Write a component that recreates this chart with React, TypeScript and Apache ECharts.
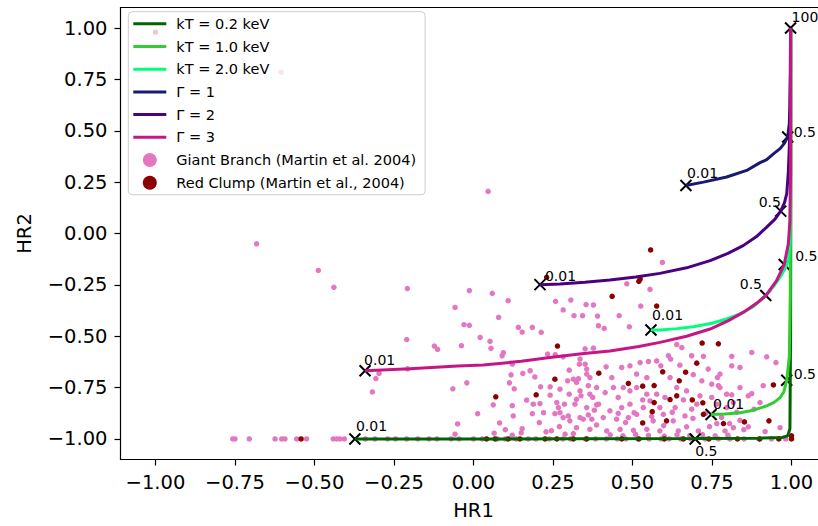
import React, { useEffect, useRef } from 'react';
import * as echarts from 'echarts';

const FONT = 'DejaVu Sans';

const xTicks = [-1, -0.75, -0.5, -0.25, 0, 0.25, 0.5, 0.75, 1];
const xTickLabels = ['−1.00', '−0.75', '−0.50', '−0.25', '0.00', '0.25', '0.50', '0.75', '1.00'];
const yTicks = [-1, -0.75, -0.5, -0.25, 0, 0.25, 0.5, 0.75, 1];
const yTickLabels = ['−1.00', '−0.75', '−0.50', '−0.25', '0.00', '0.25', '0.50', '0.75', '1.00'];

const seriesNames = ['kT = 0.2 keV', 'kT = 1.0 keV', 'kT = 2.0 keV', 'Γ = 1', 'Γ = 2', 'Γ = 3',
  'Giant Branch (Martin et al. 2004)', 'Red Clump (Martin et al., 2004)'];

// model tracks
const kT02X = [-0.373, -0.2, 0.0, 0.3, 0.697, 0.9, 0.97, 0.988, 0.995, 0.997, 0.998, 0.998];
const kT02Y = [-1.0, -1.0, -1.0, -0.999, -0.998, -0.996, -0.993, -0.985, -0.95, -0.5, 0.3, 1.0];
const kT10X = [0.747, 0.79, 0.838, 0.88, 0.922, 0.945, 0.964, 0.976, 0.985, 0.993, 0.996, 0.997, 0.997];
const kT10Y = [-0.881, -0.879, -0.872, -0.86, -0.839, -0.822, -0.799, -0.77, -0.714, -0.6, -0.3, 0.3, 1.0];
const kT20X = [0.558, 0.586, 0.64, 0.691, 0.75, 0.796, 0.84, 0.88, 0.919, 0.945, 0.964, 0.98, 0.99, 0.995, 0.997, 0.997];
const kT20Y = [-0.47, -0.47, -0.463, -0.454, -0.437, -0.416, -0.39, -0.356, -0.302, -0.255, -0.213, -0.17, -0.132, -0.05, 0.3, 1.0];
const g1X = [0.668, 0.723, 0.796, 0.859, 0.901, 0.922, 0.945, 0.964, 0.978, 0.988, 0.993, 0.995, 0.997, 0.997];
const g1Y = [0.234, 0.25, 0.275, 0.307, 0.345, 0.359, 0.39, 0.413, 0.44, 0.47, 0.535, 0.616, 0.8, 1.0];
const g2X = [0.209, 0.272, 0.35, 0.429, 0.51, 0.586, 0.67, 0.744, 0.8, 0.848, 0.89, 0.922, 0.948, 0.966, 0.978, 0.985, 0.99, 0.995, 0.997];
const g2Y = [-0.249, -0.246, -0.237, -0.226, -0.212, -0.194, -0.167, -0.132, -0.097, -0.059, -0.015, 0.031, 0.07, 0.109, 0.15, 0.194, 0.3, 0.5, 1.0];
const g3X = [-0.341, -0.2, -0.05, 0.031, 0.15, 0.24, 0.34, 0.429, 0.52, 0.586, 0.67, 0.744, 0.8, 0.848, 0.89, 0.919, 0.953, 0.977, 0.99, 0.995, 0.997, 0.997];
const g3Y = [-0.668, -0.658, -0.645, -0.64, -0.622, -0.603, -0.585, -0.572, -0.55, -0.53, -0.5, -0.465, -0.425, -0.384, -0.34, -0.302, -0.229, -0.151, -0.05, 0.063, 0.3, 1.0];

// NH markers
const markerX = [-0.373, 0.697, 0.747, 0.985, 0.558, 0.919, 0.668, 0.988, 0.209, 0.966, -0.341, 0.977, 0.997];
const markerY = [-1.0, -1.0, -0.881, -0.714, -0.47, -0.302, 0.234, 0.47, -0.249, 0.109, -0.668, -0.151, 1.0];
const markerText = ['0.01', '0.5', '0.01', '0.5', '0.01', '0.5', '0.01', '0.5', '0.01', '0.5', '0.01', '0.5', '100'];

// Giant Branch
const giantX = [
  -0.682, -0.488, -0.439, -0.605, 0.046,
  -0.208, -0.058, -0.013, 0.059, 0.109, 0.079, -0.030, -0.013, 0.141, 0.185, 0.153, 0.213, 0.021, 0.052, 0.055,
  -0.210, -0.123, -0.113, -0.038, 0.094, 0.090, 0.122, 0.233, 0.257, 0.282, 0.351, 0.377, 0.258, 0.306, 0.282,
  0.316, 0.343, 0.354, 0.377, 0.390, 0.393, 0.335, 0.333, 0.351, 0.356, 0.356, 0.330, 0.301, 0.324, 0.296,
  0.272, 0.241, 0.211, 0.193, 0.178, 0.155, 0.118, 0.113, 0.128, 0.167, 0.188, 0.209, 0.185, 0.220, 0.207,
  0.122, 0.125, 0.062, 0.013, 0.082, 0.153, -0.050, -0.058, 0.065, 0.122, -0.065, -0.021, -0.318, -0.307, -0.297,
  -0.207, 0.241, 0.262, 0.267, 0.272, 0.298, 0.303, 0.282, 0.256, 0.286, 0.324, 0.301, 0.335, 0.361, 0.375,
  0.387, 0.361, 0.380, 0.387, 0.366, 0.314, 0.288, 0.345,
  0.594, 0.555, 0.482, 0.458, 0.526, 0.411, 0.490, 0.639, 0.655, 0.686, 0.723, 0.812, 0.875, 0.812, 0.613,
  0.620, 0.576, 0.550, 0.524, 0.492, 0.466, 0.417, 0.589, 0.649, 0.738, 0.767, 0.749, 0.838, 0.875, 0.901,
  0.882, 0.838, 0.817, 0.864, 0.917, 0.791, 0.765, 0.707, 0.670, 0.644, 0.628, 0.665, 0.686, 0.702, 0.634,
  0.586, 0.602, 0.576, 0.545, 0.513, 0.492, 0.471, 0.455, 0.440, 0.414, 0.387, 0.366, 0.338, 0.319, 0.356,
  0.393, 0.429, 0.466, 0.492, 0.513, 0.487, 0.450, 0.408, 0.372, 0.335, 0.324, 0.419, 0.461, 0.503, 0.545,
  0.586, 0.565, 0.597, 0.534, 0.555, 0.639, 0.670, 0.712, 0.749, 0.765, 0.796, 0.817, 0.796, 0.775, 0.718,
  0.691, 0.618, 0.545, 0.513, 0.435, 0.366, 0.314, 0.922, 0.951, 0.838, 0.911, 0.864, 0.812, 0.775, 0.770, 0.964,
  0.455, 0.478, 0.505, 0.532, 0.56, 0.598, 0.625, 0.66, 0.69, 0.73, 0.742, 0.78, 0.805, 0.828, 0.85,
  0.43, 0.47, 0.51, 0.55, 0.6, 0.64, 0.68, 0.72, 0.76, 0.8, 0.245, 0.27, 0.228, 0.15, 0.1,
  -0.757, -0.750, -0.705, -0.624, -0.603, -0.593, -0.556, -0.525, -0.441, -0.430, -0.420, -0.406,
  -0.34, -0.31, -0.27, -0.245, -0.21, -0.175, -0.14, -0.115, -0.07, -0.045, 0.0, 0.028, 0.075, 0.1,
  0.134, 0.172, 0.196, 0.238, 0.281, 0.305, 0.352, 0.384, 0.418, 0.452, 0.479, 0.517, 0.552, 0.59, 0.615,
  0.652, 0.683, 0.728, 0.77, 0.806, 0.851, 0.898, 0.937, 0.982,
];
const giantY = [
  -0.050, -0.180, -0.262, 0.785, 0.205,
  -0.268, -0.360, -0.278, -0.291, -0.327, -0.408, -0.444, -0.447, -0.457, -0.457, -0.480, -0.481, -0.506, -0.525, -0.559,
  -0.516, -0.548, -0.564, -0.546, -0.580, -0.595, -0.636, -0.587, -0.590, -0.600, -0.561, -0.558, -0.330, -0.324, -0.372,
  -0.400, -0.400, -0.346, -0.348, -0.402, -0.449, -0.611, -0.636, -0.636, -0.660, -0.684, -0.707, -0.665, -0.725, -0.717,
  -0.758, -0.746, -0.746, -0.698, -0.668, -0.681, -0.688, -0.727, -0.756, -0.811, -0.831, -0.828, -0.877, -0.872, -0.920,
  -0.838, -0.888, -0.834, -0.877, -0.922, -0.950, -0.927, -0.977, -0.972, -0.982, -0.756, -0.727, -0.771, -0.706, -0.681,
  -0.659, -0.787, -0.823, -0.847, -0.872, -0.888, -0.912, -0.896, -0.877, -0.831, -0.807, -0.782, -0.766, -0.741, -0.798,
  -0.834, -0.883, -0.860, -0.932, -0.953, -0.974, -0.977, -0.904,
  -0.141, -0.272, -0.245, -0.400, -0.353, -0.462, -0.454, -0.541, -0.555, -0.595, -0.598, -0.598, -0.579, -0.644, -0.595,
  -0.611, -0.620, -0.623, -0.628, -0.644, -0.652, -0.649, -0.644, -0.641, -0.660, -0.701, -0.733, -0.750, -0.779, -0.823,
  -0.855, -0.909, -0.945, -0.941, -0.964, -0.961, -0.925, -0.961, -0.941, -0.961, -0.912, -0.888, -0.855, -0.831, -0.847,
  -0.847, -0.798, -0.782, -0.782, -0.750, -0.766, -0.750, -0.798, -0.750, -0.774, -0.750, -0.782, -0.790, -0.831, -0.847,
  -0.831, -0.863, -0.847, -0.831, -0.880, -0.896, -0.904, -0.896, -0.904, -0.896, -0.945, -0.961, -0.953, -0.958, -0.953,
  -0.961, -0.912, -0.880, -0.847, -0.815, -0.750, -0.766, -0.790, -0.798, -0.831, -0.847, -0.823, -0.782, -0.750, -0.717,
  -0.687, -0.701, -0.701, -0.684, -0.701, -0.701, -0.709, -0.600, -0.628, -0.652, -0.741, -0.790, -0.785, -0.684, -0.741, -0.945,
  -0.875, -0.92, -0.872, -0.81, -0.89, -0.935, -0.87, -0.81, -0.9, -0.875, -0.94, -0.895, -0.925, -0.87, -0.955,
  -0.98, -0.985, -0.978, -0.983, -0.986, -0.98, -0.984, -0.979, -0.985, -0.982, -0.96, -0.94, -0.965, -0.97, -0.955,
  -1.0, -1.0, -1.0, -1.0, -1.0, -1.0, -1.0, -1.0, -1.0, -1.0, -1.0, -1.0,
  -1.0, -1.0, -1.0, -1.0, -1.0, -1.0, -1.0, -1.0, -1.0, -1.0, -1.0, -1.0, -1.0, -1.0,
  -1.0, -1.0, -1.0, -1.0, -1.0, -1.0, -1.0, -1.0, -1.0, -1.0, -1.0, -1.0, -1.0, -1.0, -1.0,
  -1.0, -1.0, -1.0, -1.0, -1.0, -1.0, -1.0, -1.0, -1.0,
];

// Red Clump
const clumpX = [
  -1.0, -0.542, 0.557, 0.520, 0.524, 0.436, 0.576, 0.719, 0.770, 0.702, 0.394, 0.595, 0.667, 0.487, 0.532,
  0.568, 0.647, 0.639, 0.618, 0.568, 0.688, 0.721, 0.562, 0.607, 0.532, 0.852, 0.929, 0.943, 0.264, 0.256,
  0.197, 0.070, 0.230, 0.786, 0.723,
  0.041, 0.068, 0.109, 0.146, 0.225, 0.262, 0.314, 0.356, 0.466, 0.52, 0.6, 0.66, 0.74, 0.83, 0.9, 0.96, 1.0, 1.0,
];
const clumpY = [
  0.98, -1.0, -0.080, -0.233, -0.221, -0.306, -0.353, -0.533, -0.537, -0.631, -0.680, -0.673, -0.675, -0.730, -0.743,
  -0.740, -0.717, -0.790, -0.808, -0.823, -0.810, -0.824, -0.867, -0.912, -0.922, -0.917, -0.912, -0.737, -0.548, -0.709,
  -0.785, -0.795, -0.213, -0.925, -0.880,
  -1.0, -1.0, -1.0, -1.0, -1.0, -1.0, -1.0, -1.0, -1.0, -1.0, -1.0, -1.0, -1.0, -1.0, -1.0, -1.0, -1.0, -0.985,
];

const lineColors = ['#006400', '#32cd32', '#00ff7f', '#191970', '#4b0082', '#c71585'];
const labelOffsets = [[1, -13], [0, 12], [2, -11], [7, -6], [1, -15], [-26, -12], [1, -12], [6, -5], [5, -9], [-22, -9], [-1, -11], [11, -9], [1, -11]];

const zip = (xs: number[], ys: number[]) => xs.map((x, i) => [x, ys[i]]);
const tickLabel = (v: number, ticks: number[], labels: string[]) => {
  const i = ticks.findIndex((t) => Math.abs(t - v) < 1e-6);
  return i >= 0 ? labels[i] : '';
};

export default function App() {
  const ref = useRef<HTMLDivElement>(null);
  useEffect(() => {
    if (!ref.current) return;
    const chart = echarts.init(ref.current, null, { renderer: 'svg' });
    const lineSeries = (name: string, xs: number[], ys: number[], color: string) => ({
      name, type: 'line', data: zip(xs, ys), symbol: 'none', showSymbol: false,
      lineStyle: { color, width: 3 }, itemStyle: { color }, clip: true, silent: true,
    });
    const axisCommon = {
      type: 'value',
      nameLocation: 'middle',
      nameTextStyle: { fontFamily: FONT, fontSize: 19.5, color: '#000' },
      axisLine: { show: false, onZero: false },
      splitLine: { show: false },
    };
    const lineIcon = 'path://M0,0L33,0L33,3L0,3Z';
    chart.setOption({
      animation: false,
      backgroundColor: '#ffffff',
      grid: {
        left: 120.5, top: 7.5, width: 706, height: 452, show: true, borderColor: '#000', borderWidth: 1.2,
        backgroundColor: 'transparent', containLabel: false, outerBoundsMode: 'none',
      },
      xAxis: {
        ...axisCommon, min: -1.11, max: 1.11, name: 'HR1', nameGap: 41,
        axisTick: { show: true, length: 6, lineStyle: { color: '#000', width: 1.2 }, customValues: xTicks },
        axisLabel: { customValues: xTicks, formatter: (v: number) => tickLabel(v, xTicks, xTickLabels), margin: 13, fontFamily: FONT, fontSize: 19.5, color: '#000' },
      },
      yAxis: {
        ...axisCommon, min: -1.1, max: 1.1, name: 'HR2', nameGap: 86,
        axisTick: { show: true, length: 6, lineStyle: { color: '#000', width: 1.2 }, customValues: yTicks },
        axisLabel: { customValues: yTicks, formatter: (v: number) => tickLabel(v, yTicks, yTickLabels), margin: 13, fontFamily: FONT, fontSize: 19.5, color: '#000' },
      },
      legend: {
        orient: 'vertical', left: 128.3, top: 11.7,
        padding: [4.6, 9, 4.6, 5],
        itemWidth: 33, itemHeight: 14, itemGap: 7.7,
        backgroundColor: 'rgba(255,255,255,0.8)', borderColor: '#cccccc', borderWidth: 1, borderRadius: 4,
        textStyle: { fontFamily: FONT, fontSize: 14.5, color: '#000', padding: [0, 0, 0, 5] },
        data: seriesNames.map((n, i) => (i < 6 ? { name: n, icon: lineIcon } : { name: n, icon: 'circle' })),
        selectedMode: false,
      },
      series: [
        lineSeries(seriesNames[0], kT02X, kT02Y, lineColors[0]),
        lineSeries(seriesNames[1], kT10X, kT10Y, lineColors[1]),
        lineSeries(seriesNames[2], kT20X, kT20Y, lineColors[2]),
        {
          name: seriesNames[6], type: 'scatter', data: zip(giantX, giantY), symbol: 'circle', symbolSize: 5.5,
          itemStyle: { color: '#e377c2', opacity: 1 }, silent: true,
        },
        {
          name: seriesNames[7], type: 'scatter', data: zip(clumpX, clumpY), symbol: 'circle', symbolSize: 5.5,
          itemStyle: { color: '#8b0000', opacity: 1 }, silent: true,
        },
        lineSeries(seriesNames[3], g1X, g1Y, lineColors[3]),
        lineSeries(seriesNames[4], g2X, g2Y, lineColors[4]),
        lineSeries(seriesNames[5], g3X, g3Y, lineColors[5]),
        {
          name: 'NH markers', type: 'scatter', silent: true, clip: false,
          symbol: 'path://M0,0L10,10M10,0L0,10', symbolSize: 11,
          itemStyle: { color: 'rgba(0,0,0,0)', borderColor: '#000', borderWidth: 2, opacity: 1 },
          data: markerX.map((x, i) => ({ value: [x, markerY[i]], label: { offset: labelOffsets[i] } })),
          label: {
            show: true, position: 'inside', align: 'left', verticalAlign: 'middle',
            formatter: (p: any) => markerText[p.dataIndex],
            fontFamily: FONT, fontSize: 14, color: '#000',
          },
        },
      ],
    });
    return () => chart.dispose();
  }, []);
  return <div ref={ref} style={{ position: 'fixed', left: 0, top: 0, width: 818, height: 526 }} />;
}
